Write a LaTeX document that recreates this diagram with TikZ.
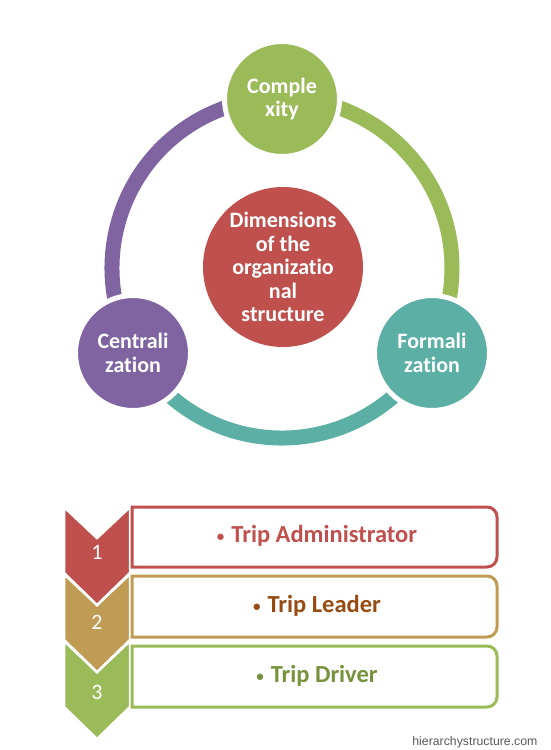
\documentclass[tikz,border=0pt]{standalone}
\usepackage{fontspec}
\setmainfont{Carlito}[Ligatures=NoCommon]
\newfontfamily\webfont{Liberation Sans}
\definecolor{cred}{HTML}{C0504D}
\definecolor{cgreen}{HTML}{9BBB59}
\definecolor{cpurple}{HTML}{8064A2}
\definecolor{cteal}{HTML}{5BAFA5}
\definecolor{ctan}{HTML}{BF9B53}
\definecolor{tbrown}{HTML}{964B12}
\definecolor{tgreen}{HTML}{76923C}
\newcommand{\bul}{{\fontsize{15}{15}\selectfont\raisebox{1pt}{•}}\hspace{7pt}}
\tikzset{
  ringarc/.style={line width=15pt},
  smallcirc/.style={circle, draw=white, line width=5pt, minimum size=115pt, inner sep=0pt,
    text=white, align=center, font=\fontsize{22}{23.5}\selectfont\bfseries},
  bigcirc/.style={circle, minimum size=160pt, inner sep=0pt, fill=cred,
    text=white, align=center, font=\fontsize{22}{23.5}\selectfont\bfseries},
  chev/.style={draw=white, line width=2.5pt, line join=miter},
  boxline/.style={line width=3pt, fill=white},
  numtext/.style={text=white, font=\fontsize{22}{24}\selectfont},
  itemtext/.style={font=\fontsize{24.5}{27}\selectfont\bfseries},
}
\begin{document}
\begin{tikzpicture}[x=1pt,y=-1pt]
\useasboundingbox (0,0) rectangle (550,750);
% ring
\coordinate (rc) at (282,268);
\draw[ringarc, cpurple] (rc) ++(150:170) arc[start angle=150, end angle=270, radius=170];
\draw[ringarc, cgreen] (rc) ++(-90:170) arc[start angle=-90, end angle=30, radius=170];
\draw[ringarc, cteal] (rc) ++(30:170) arc[start angle=30, end angle=150, radius=170];
% circles
\node[smallcirc, fill=cgreen] (cplx) at (282,99) {Comple\\xity};
\node[smallcirc, fill=cpurple] (cent) at (133,353) {Centrali\\zation};
\node[smallcirc, fill=cteal] (form) at (432,353) {Formali\\zation};
\node[bigcirc] (dim) at (283,267) {Dimensions\\of the\\organizatio\\nal\\structure};
% chevrons (bottom to top)
\draw[chev, fill=cgreen] (64,641) -- (97,672) -- (130,641) -- (130,707) -- (97,739) -- (64,707) -- cycle;
\draw[chev, fill=ctan] (64,574) -- (97,605) -- (130,574) -- (130,640) -- (97,672) -- (64,640) -- cycle;
\draw[chev, fill=cred] (64,507) -- (97,538) -- (130,507) -- (130,573) -- (97,605) -- (64,573) -- cycle;
% boxes
\filldraw[boxline, draw=cred] (132,567) -- (132,507) [rounded corners=10pt] -- (497,507) -- (497,567) [sharp corners] -- cycle;
\filldraw[boxline, draw=ctan] (132,637) -- (132,576) [rounded corners=10pt] -- (497,576) -- (497,637) [sharp corners] -- cycle;
\filldraw[boxline, draw=cgreen] (132,707) -- (132,646) [rounded corners=10pt] -- (497,646) -- (497,707) [sharp corners] -- cycle;
% numbers
\node[numtext] (n1) at (97,552) {1};
\node[numtext] (n2) at (97,622) {2};
\node[numtext] (n3) at (97,692) {3};
% items
\node[itemtext, text=cred] (i1) at (317,536) {\bul Trip Administrator};
\node[itemtext, text=tbrown] (i2) at (317,606) {\bul Trip Leader};
\node[itemtext, text=tgreen] (i3) at (317,676) {\bul Trip Driver};
% watermark
\node[font=\webfont\fontsize{12.3}{14}\selectfont, text=black!65, anchor=east] (wm) at (541,742) {hierarchystructure.com};
\end{tikzpicture}
\end{document}
